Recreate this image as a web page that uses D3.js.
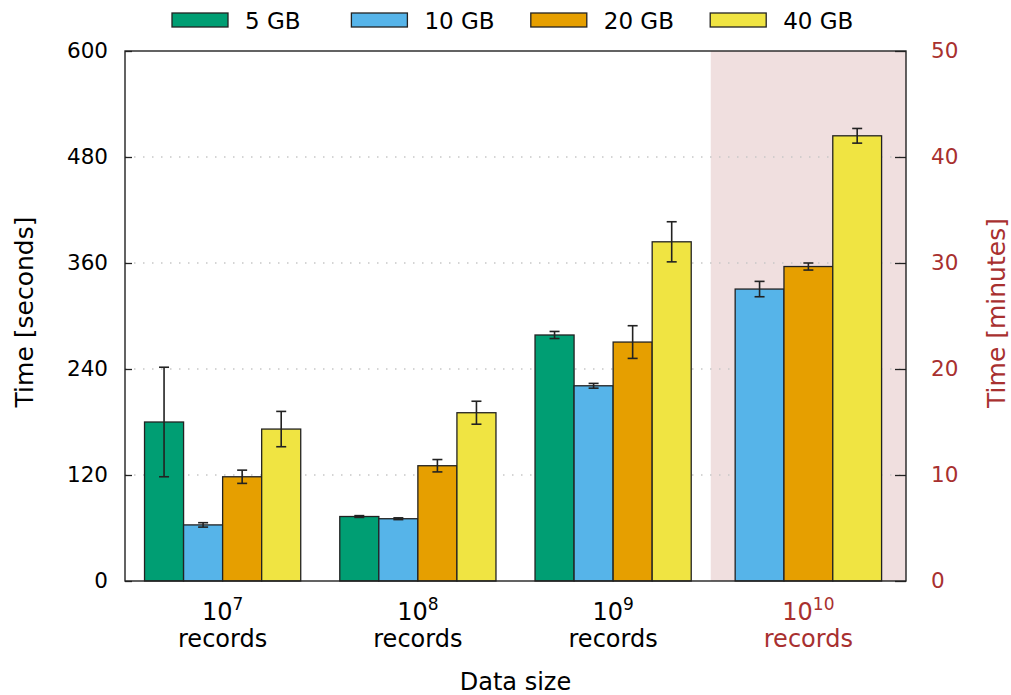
<!DOCTYPE html>
<html><head><meta charset="utf-8">
<script src="https://cdn.jsdelivr.net/npm/d3@7"></script>
<style>body{margin:0;background:#fff} text{font-family:"DejaVu Sans",sans-serif}</style>
</head><body><svg id="c" width="1011" height="695"></svg>
<script>
// ---- data ----
const groups = ["1e7", "1e8", "1e9", "1e10"];
const groupExp = ["7", "8", "9", "10"];
const series = ["5 GB", "10 GB", "20 GB", "40 GB"];
const colors = ["#009e73", "#56b4e9", "#e69f00", "#f0e442"];
const v5  = [180, 73, 278.5, null];
const v10 = [63.5, 70.5, 221, 330.5];
const v20 = [118, 130.5, 270.5, 356];
const v40 = [172, 190.5, 384, 504];
const e5  = [62, 1, 4, null];
const e10 = [2.5, 1, 2.7, 8.7];
const e20 = [7.5, 7, 18.5, 4];
const e40 = [20, 13, 22.7, 8.3];
const leftTicks = [0, 120, 240, 360, 480, 600];
const rightTicks = [0, 10, 20, 30, 40, 50];
const gridTicks = [120, 240, 360, 480];

const values = [v5, v10, v20, v40];
const errs = [e5, e10, e20, e40];
const brown = "#a8302f";

const svg = d3.select("#c");
const L = 125, R = 906, T = 51, B = 581;
const x = d3.scaleBand().domain(groups).range([L, R]).padding(0);
const y = d3.scaleLinear().domain([0, 600]).range([B, T]);
const y2 = d3.scaleLinear().domain([0, 50]).range([B, T]);

// shaded highlight for last group
svg.append("rect").attr("x", x("1e10")).attr("y", T)
  .attr("width", R - x("1e10")).attr("height", B - T).attr("fill", "#f0dfdf");

// grid
svg.append("g").selectAll("line").data(gridTicks).join("line")
  .attr("x1", L).attr("x2", R).attr("y1", d => y(d)).attr("y2", d => y(d))
  .attr("stroke", "#c8c8c8").attr("stroke-width", 1.5).attr("stroke-dasharray", "1.5,7.5");

// bars
const bw = x.bandwidth();
groups.forEach((g, gi) => {
  const present = series.map((s, si) => si).filter(si => values[si][gi] != null);
  const n = present.length;
  const w = bw * (n >= 4 ? 0.2 : 0.25);
  const inner = d3.scaleBand().domain(present).range([x(g) + bw / 2 - n * w / 2, x(g) + bw / 2 + n * w / 2]);
  const gg = svg.append("g");
  present.forEach(si => {
    const v = values[si][gi], e = errs[si][gi];
    const bx = inner(si), cx = bx + inner.bandwidth() / 2;
    gg.append("rect").attr("x", bx).attr("y", y(v)).attr("width", inner.bandwidth())
      .attr("height", y(0) - y(v)).attr("fill", colors[si]).attr("stroke", "#222").attr("stroke-width", 1.3);
    const eg = gg.append("g").attr("stroke", "#222").attr("stroke-width", 1.6);
    eg.append("line").attr("x1", cx).attr("x2", cx).attr("y1", y(v - e)).attr("y2", y(v + e));
    eg.append("line").attr("x1", cx - 5).attr("x2", cx + 5).attr("y1", y(v - e)).attr("y2", y(v - e));
    eg.append("line").attr("x1", cx - 5).attr("x2", cx + 5).attr("y1", y(v + e)).attr("y2", y(v + e));
  });
});

// axes
const ax = svg.append("g").attr("transform", `translate(${L},0)`)
  .call(d3.axisLeft(y).tickValues(leftTicks).tickSize(-7).tickPadding(17));
ax.select(".domain").remove();
ax.selectAll("text").attr("font-size", 21.5).attr("fill", "#000").attr("font-family", "DejaVu Sans");
ax.selectAll("line").attr("stroke", "#222").attr("stroke-width", 1.3);

const ax2 = svg.append("g").attr("transform", `translate(${R},0)`)
  .call(d3.axisRight(y2).tickValues(rightTicks).tickSize(-11).tickPadding(25));
ax2.select(".domain").remove();
ax2.selectAll("text").attr("font-size", 21.5).attr("fill", brown).attr("font-family", "DejaVu Sans");
ax2.selectAll("line").attr("stroke", "#222").attr("stroke-width", 1.3);

// frame
svg.append("rect").attr("x", L).attr("y", T).attr("width", R - L).attr("height", B - T)
  .attr("fill", "none").attr("stroke", "#222").attr("stroke-width", 1.4);

// x labels
groups.forEach((g, gi) => {
  const cx = x(g) + bw / 2;
  const col = gi === 3 ? brown : "#000";
  const t = svg.append("text").attr("x", cx).attr("y", 620).attr("text-anchor", "middle")
    .attr("font-size", 24).attr("fill", col);
  t.append("tspan").text("10");
  t.append("tspan").attr("dy", -10).attr("font-size", 17).text(groupExp[gi]);
  svg.append("text").attr("x", cx).attr("y", 647).attr("text-anchor", "middle")
    .attr("font-size", 24).attr("fill", col).text("records");
});
svg.append("text").attr("x", (L + R) / 2).attr("y", 690).attr("text-anchor", "middle")
  .attr("font-size", 24).text("Data size");

// axis titles
svg.append("text").attr("transform", `translate(33,312) rotate(-90)`).attr("text-anchor", "middle")
  .attr("font-size", 25).text("Time [seconds]");
svg.append("text").attr("transform", `translate(1005,313) rotate(-90)`).attr("text-anchor", "middle")
  .attr("font-size", 25).attr("fill", brown).text("Time [minutes]");

// legend
const lg = svg.append("g");
series.forEach((s, i) => {
  const lx = 172 + i * 179.4;
  lg.append("rect").attr("x", lx).attr("y", 13).attr("width", 56).attr("height", 14)
    .attr("fill", colors[i]).attr("stroke", "#222").attr("stroke-width", 1.3);
  lg.append("text").attr("x", lx + 73).attr("y", 28.5).attr("font-size", 23).text(s);
});
</script></body></html>
